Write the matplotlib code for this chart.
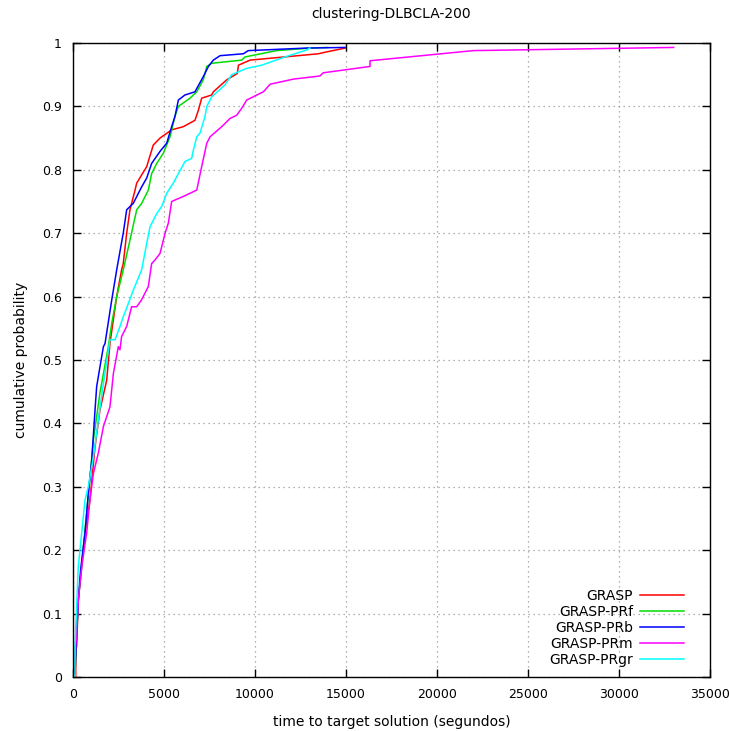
import matplotlib
matplotlib.use("Agg")
import matplotlib.pyplot as plt

# ---- data (time in seconds, cumulative probability)
grasp_t = [150, 150, 200, 290, 480, 660, 930, 1210, 1480, 1850, 2030, 2400, 2670, 2760, 2950,
           3130, 3410, 3500, 4050, 4410, 4780, 5420, 6060, 6700, 6890, 7070, 7620, 7710,
           8450, 9030, 9090, 9730, 13480, 13940, 14950]
grasp_p = [0.0, 0.045, 0.048, 0.121, 0.174, 0.227, 0.279, 0.363, 0.421, 0.468, 0.526, 0.600, 0.642,
           0.652, 0.700, 0.737, 0.768, 0.779, 0.805, 0.839, 0.850, 0.863, 0.868, 0.878, 0.894,
           0.913, 0.918, 0.923, 0.942, 0.952, 0.965, 0.973, 0.983, 0.986, 0.992]

prf_t = [110, 200, 290, 570, 840, 1120, 1480, 1940, 2130, 2400, 2760, 3130, 3500, 3770, 4140,
         4320, 4600, 4960, 5330, 5600, 5790, 6430, 6800, 7160, 7350, 7620, 9270, 9450, 11190,
         13020, 14000]
prf_p = [0.006, 0.069, 0.121, 0.206, 0.284, 0.374, 0.448, 0.521, 0.558, 0.600, 0.642, 0.689,
         0.737, 0.747, 0.768, 0.794, 0.810, 0.826, 0.852, 0.884, 0.900, 0.913, 0.923, 0.942,
         0.963, 0.968, 0.973, 0.978, 0.988, 0.992, 0.993]

prb_t = [110, 200, 290, 420, 660, 840, 1030, 1210, 1300, 1480, 1670, 1760, 2130, 2400, 2760,
         2950, 3310, 3770, 4050, 4320, 4780, 5150, 5420, 5600, 5790, 6150, 6700, 7160, 7440,
         7710, 8080, 9360, 9630, 12840, 14950]
prb_p = [0.006, 0.069, 0.121, 0.169, 0.227, 0.290, 0.342, 0.421, 0.458, 0.489, 0.521, 0.526,
         0.595, 0.642, 0.700, 0.737, 0.747, 0.773, 0.787, 0.810, 0.829, 0.842, 0.868, 0.884,
         0.910, 0.918, 0.923, 0.947, 0.963, 0.973, 0.980, 0.983, 0.988, 0.992, 0.993]

prm_t = [100, 200, 290, 480, 750, 930, 1120, 1390, 1670, 2030, 2220, 2490, 2580, 2670, 2950,
         3220, 3500, 3770, 4140, 4320, 4510, 4780, 5060, 5240, 5420, 6060, 6800, 7070, 7350,
         7530, 8170, 8630, 8990, 9270, 9540, 10460, 10830, 12100, 13570, 13750, 16320, 16320,
         22000, 33000]
prm_p = [0.030, 0.069, 0.121, 0.174, 0.227, 0.279, 0.321, 0.353, 0.395, 0.426, 0.479, 0.521,
         0.516, 0.537, 0.553, 0.584, 0.584, 0.595, 0.616, 0.652, 0.658, 0.668, 0.700, 0.716,
         0.750, 0.758, 0.768, 0.805, 0.842, 0.852, 0.868, 0.881, 0.886, 0.897, 0.910, 0.923,
         0.935, 0.943, 0.948, 0.953, 0.963, 0.972, 0.988, 0.993]

prgr_t = [110, 110, 290, 660, 840, 1120, 1390, 1670, 2030, 2310, 2580, 2760, 3040, 3310, 3770,
          4050, 4230, 4600, 4870, 5150, 5510, 5790, 6150, 6520, 6610, 6800, 6980, 7250, 7350,
          7620, 8350, 8720, 9540, 10370, 11650, 12840, 13020]
prgr_p = [0.0, 0.048, 0.174, 0.279, 0.300, 0.347, 0.405, 0.463, 0.532, 0.532, 0.553, 0.568,
          0.589, 0.610, 0.642, 0.684, 0.710, 0.731, 0.742, 0.763, 0.779, 0.794, 0.813, 0.818,
          0.831, 0.852, 0.858, 0.884, 0.900, 0.915, 0.934, 0.950, 0.960, 0.965, 0.978, 0.989,
          0.992]

names = ["GRASP", "GRASP-PRf", "GRASP-PRb", "GRASP-PRm", "GRASP-PRgr"]
colors = ["#ff0000", "#00dd00", "#0000ff", "#ff00ff", "#00ffff"]

xticks = [0, 5000, 10000, 15000, 20000, 25000, 30000, 35000]
yticks = [0, 0.1, 0.2, 0.3, 0.4, 0.5, 0.6, 0.7, 0.8, 0.9, 1]
ylabels = ["0", "0.1", "0.2", "0.3", "0.4", "0.5", "0.6", "0.7", "0.8", "0.9", "1"]

fig = plt.figure(figsize=(7.29, 7.31), dpi=100)
ax = fig.add_axes([73 / 729, 54 / 731, 637 / 729, 634 / 731])

series = [(grasp_t, grasp_p), (prf_t, prf_p), (prb_t, prb_p), (prm_t, prm_p), (prgr_t, prgr_p)]
for (t, p), name, c in zip(series, names, colors):
    ax.plot(t, p, color=c, lw=1.1, label=name)

ax.set_xlim(0, 35000)
ax.set_ylim(0, 1)
ax.set_xticks(xticks)
ax.set_xticklabels([str(v) for v in xticks])
ax.set_yticks(yticks)
ax.set_yticklabels(ylabels)
ax.tick_params(direction="in", top=True, right=True, length=6, width=1, labelsize=9, pad=8)

ax.grid(True, color="#999999", linestyle=(0, (1, 3)), linewidth=0.9)
for s in ax.spines.values():
    s.set_linewidth(1)

ax.set_title("clustering-DLBCLA-200", fontsize=10, pad=18)
ax.set_xlabel("time to target solution (segundos)", fontsize=10, labelpad=10)
ax.set_ylabel("cumulative probability", fontsize=10, labelpad=10)

ax.legend(loc="lower right", bbox_to_anchor=(0.975, 0.0), frameon=False, markerfirst=False,
          fontsize=10, handlelength=3.2, labelspacing=0.15, borderaxespad=0.3, handletextpad=0.5)

plt.savefig("out.png", dpi=100)
